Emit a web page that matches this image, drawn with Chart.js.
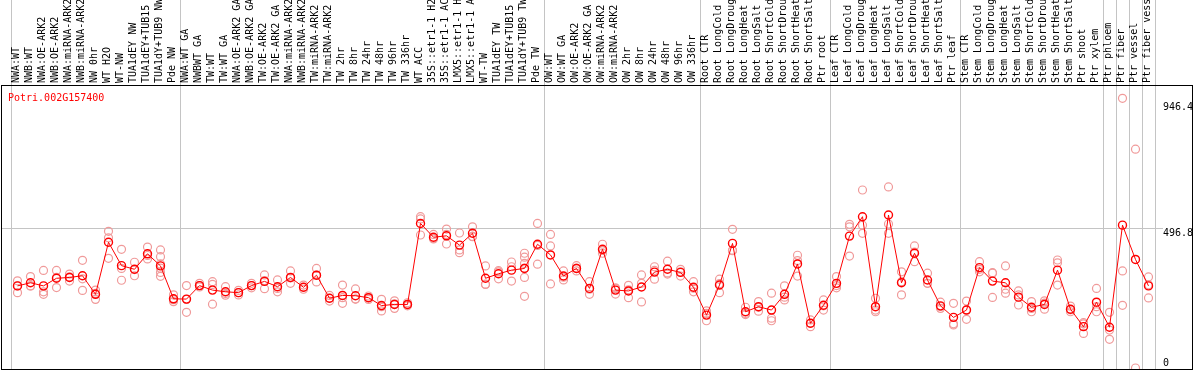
<!DOCTYPE html>
<html>
<head>
<meta charset="utf-8">
<title>Potri.002G157400</title>
<script src="https://cdn.jsdelivr.net/npm/chart.js@4.4.1/dist/chart.umd.min.js"></script>
<style>
  body { margin: 0; background: #fff; }
  #wrap { position: relative; width: 1194px; height: 370px; }
  #frame { position: absolute; left: 1px; top: 85px; width: 1190px; height: 283px; border: 1px solid #000; pointer-events: none; }
</style>
</head>
<body>
<div id="wrap">
  <canvas id="chart" width="1194" height="370"></canvas>
  <div id="frame"></div>
</div>
<script>
// ── DATA ──────────────────────────────────────────────────────────────────────
const GENE = 'Potri.002G157400';

const SAMPLES = [
    // normal wood
    'NWA:WT', 'NWB:WT', 'NWA:OE-ARK2', 'NWB:OE-ARK2', 'NWA:miRNA-ARK2', 'NWB:miRNA-ARK2',
    'NW 0hr', 'WT H2O', 'WT-NW', 'TUA1dEY NW', 'TUA1dEY+TUB15 NW', 'TUA1dY+TUB9 NW', 'Pde NW',
    // tension wood
    'NWA:WT GA', 'NWBWT GA', 'TW:WT', 'TW:WT GA', 'NWA:OE-ARK2 GA', 'NWB:OE-ARK2 GA',
    'TW:OE-ARK2', 'TW:OE-ARK2 GA', 'NWA:miRNA-ARK2 GA', 'NWB:miRNA-ARK2 GA', 'TW:miRNA-ARK2',
    'TW:miRNA-ARK2 GA', 'TW 2hr', 'TW 8hr', 'TW 24hr', 'TW 48hr', 'TW 96hr', 'TW 336hr',
    'WT ACC', '35S::etr1-1 H2O', '35S::etr1-1 ACC', 'LMX5::etr1-1 H2O', 'LMX5::etr1-1 ACC',
    'WT-TW', 'TUA1dEY TW', 'TUA1dEY+TUB15 TW', 'TUA1dY+TUB9 TW', 'Pde TW',
    // opposite wood
    'OW:WT', 'OW:WT GA', 'OW:OE-ARK2', 'OW:OE-ARK2 GA', 'OW:miRNA-ARK2', 'OW:miRNA-ARK2 GA',
    'OW 2hr', 'OW 8hr', 'OW 24hr', 'OW 48hr', 'OW 96hr', 'OW 336hr',
    // root
    'Root CTR', 'Root LongCold', 'Root LongDrought', 'Root LongHeat', 'Root LongSalt',
    'Root ShortCold', 'Root ShortDrought', 'Root ShortHeat', 'Root ShortSalt', 'Ptr root',
    // leaf
    'Leaf CTR', 'Leaf LongCold', 'Leaf LongDrought', 'Leaf LongHeat', 'Leaf LongSalt',
    'Leaf ShortCold', 'Leaf ShortDrought', 'Leaf ShortHeat', 'Leaf ShortSalt', 'Ptr leaf',
    // stem
    'Stem CTR', 'Stem LongCold', 'Stem LongDrought', 'Stem LongHeat', 'Stem LongSalt',
    'Stem ShortCold', 'Stem ShortDrought', 'Stem ShortHeat', 'Stem ShortSalt', 'Ptr shoot',
    'Ptr xylem', 'Ptr phloem', 'Ptr fiber', 'Ptr vessel', 'Ptr fiber vessel',
];

const MEANS = [
    292, 303, 292, 319, 322, 328, 262, 447, 364, 351, 406, 363, 246,
    245, 293, 277, 271, 268, 293, 308, 289, 322, 287, 330, 248, 258, 257, 250, 222, 226, 226,
    514, 465, 470, 437, 479, 319, 335, 348, 354, 440,
    402, 327, 354, 283, 422, 277, 274, 288, 341, 351, 340, 287,
    188, 295, 443, 200, 218, 206, 262, 370, 159, 223,
    301, 469, 538, 218, 544, 303, 408, 313, 221, 180,
    206, 357, 309, 303, 252, 216, 226, 348, 209, 147, 234,
    145, 508, 386, 292,
];

const REPLICATES = [
    [310, 292, 268], [325, 292, 292], [347, 271, 262], [347, 322, 286], [334, 324, 309],
    [383, 317, 276], [277, 265, 244], [486, 463, 390], [422, 354, 312], [376, 350, 328],
    [430, 400, 388], [420, 396, 370, 355, 340, 326], [260, 243, 236],
    [293, 244, 198], [301, 293, 288], [307, 297, 227], [289, 265, 259], [276, 268, 260],
    [301, 293, 285], [331, 311, 282], [313, 283, 271], [345, 320, 301], [295, 287, 280],
    [354, 330, 306], [258, 248, 238], [295, 250, 230], [281, 245, 245], [256, 250, 244],
    [244, 218, 203], [239, 228, 212], [232, 226, 221], [538, 530, 473], [475, 461, 459],
    [494, 475, 441], [480, 420, 410], [502, 468, 467], [363, 298, 297], [346, 342, 317],
    [377, 360, 309], [408, 394, 372, 355, 322, 255], [514, 436, 369],
    [475, 434, 299], [345, 323, 313], [364, 355, 345], [307, 280, 262], [440, 418, 408],
    [285, 282, 263], [294, 278, 250], [331, 301, 235], [360, 347, 316], [380, 338, 334],
    [351, 342, 327], [307, 284, 271],
    [203, 194, 168], [316, 300, 268], [493, 419, 417], [216, 194, 190], [236, 216, 202],
    [266, 177, 168], [292, 252, 242], [401, 382, 327], [171, 159, 147], [242, 221, 206],
    [325, 293, 285], [511, 502, 398], [633, 508, 479], [248, 206, 200], [644, 512, 479],
    [342, 307, 260], [434, 412, 378], [337, 301, 301], [234, 219, 212], [230, 157, 153],
    [238, 207, 173], [378, 351, 342], [339, 337, 251], [363, 280, 266], [274, 260, 224],
    [236, 212, 200], [239, 231, 209], [384, 374, 295], [220, 207, 200], [161, 157, 123],
    [283, 218, 200],
    [198, 135, 102], [959, 345, 223], [778, 0], [324, 296, 249],
];

const Y_TICKS = [0, 496.8, 946.4];
const Y_GRID = 496.8;
// grid line k sits on the left edge of sample k (88 = right edge of the last one)
const GROUP_BREAKS = [0, 13, 41, 53, 63, 73, 84, 85, 86, 87, 88];

// ── CHART ─────────────────────────────────────────────────────────────────────
const FONT = { family: '"DejaVu Sans Mono", monospace', size: 10 };
const GRID_GREY = '#c4c4c4';
const NONE = 'rgba(0,0,0,0)';

const replicatePoints = REPLICATES.flatMap((vals, i) => vals.map(v => ({ x: SAMPLES[i], y: v })));

// gene name + right-hand value labels
const annotate = {
    id: 'annotate',
    afterDraw(chart) {
        const { ctx, chartArea, scales } = chart;
        ctx.save();
        ctx.font = '10px "DejaVu Sans Mono"';
        ctx.textAlign = 'left';
        ctx.textBaseline = 'alphabetic';
        ctx.fillStyle = '#ff0000';
        ctx.fillText(GENE, chartArea.left - 3, chartArea.top + 15);
        ctx.fillStyle = '#000';
        Y_TICKS.forEach(v => {
            const y = Math.min(scales.y.getPixelForValue(v) + 8, chartArea.bottom - 3);
            ctx.fillText(String(v), chartArea.right + 8, y);
        });
        ctx.restore();
    },
};

new Chart(document.getElementById('chart'), {
    type: 'line',
    data: {
        labels: SAMPLES,
        datasets: [
            {
                label: 'mean',
                data: MEANS,
                yAxisID: 'y',
                borderColor: '#ff0000',
                borderWidth: 1,
                tension: 0,
                pointRadius: 4,
                pointBorderWidth: 1.4,
                pointBorderColor: '#ff0000',
                pointBackgroundColor: NONE,
            },
            {
                type: 'scatter',
                label: 'replicates',
                data: replicatePoints,
                yAxisID: 'y',
                showLine: false,
                pointRadius: 4,
                pointBorderWidth: 1.2,
                pointBorderColor: '#f09a9a',
                pointBackgroundColor: NONE,
            },
        ],
    },
    options: {
        responsive: false,
        animation: false,
        events: [],
        layout: { autoPadding: false, padding: { left: 0, right: 0, top: 0, bottom: 1 } },
        plugins: { legend: { display: false }, tooltip: { enabled: false } },
        scales: {
            x: {
                type: 'category',
                position: 'top',
                offset: true,
                border: { display: false },
                grid: {
                    offset: true,
                    tickLength: 86,
                    color: c => (c.index === undefined || GROUP_BREAKS.includes(c.index)) ? GRID_GREY : NONE,
                },
                ticks: {
                    autoSkip: false,
                    minRotation: 90,
                    maxRotation: 90,
                    padding: -83,
                    labelOffset: 11,
                    font: FONT,
                    color: '#000',
                },
                afterFit: s => { s.height = 86; },
            },
            yl: {
                position: 'left',
                min: -3.6,
                max: 1002.8,
                border: { display: false },
                grid: {
                    drawOnChartArea: false,
                    tickLength: 9,
                    color: c => (c.tick && c.tick.value === Y_GRID) ? GRID_GREY : NONE,
                },
                ticks: { display: false },
                afterBuildTicks: s => { s.ticks = Y_TICKS.map(v => ({ value: v })); },
                afterFit: s => { s.width = 11; },
            },
            y: {
                position: 'right',
                min: -3.6,
                max: 1002.8,
                border: { display: false },
                grid: {
                    tickLength: 8,
                    color: c => (c.tick && c.tick.value === Y_GRID) ? GRID_GREY : NONE,
                },
                ticks: { display: false },
                afterBuildTicks: s => { s.ticks = Y_TICKS.map(v => ({ value: v })); },
                afterFit: s => { s.width = 39; },
            },
        },
    },
    plugins: [annotate],
});
</script>
</body>
</html>
